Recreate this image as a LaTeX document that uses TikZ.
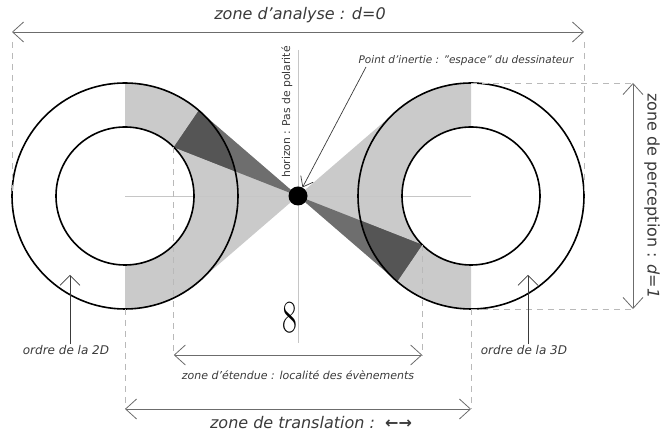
\documentclass[tikz,border=0pt]{standalone}
\usepackage{fontspec}
\setsansfont{DejaVu Sans}
\usetikzlibrary{arrows.meta,calc}
\definecolor{shadelight}{HTML}{CACACA}
\definecolor{shademid}{HTML}{6E6E6E}
\definecolor{shadedark}{HTML}{555555}
\definecolor{inkgray}{HTML}{3A3A3A}
\tikzset{
  dim arrow/.style={{Straight Barb[length=11pt,width=20pt]}-{Straight Barb[length=11pt,width=20pt]}, draw=gray!85!black, line width=0.8pt},
  guide/.style={draw=gray!55, dash pattern=on 6pt off 5pt, line width=0.6pt},
  axis line/.style={draw=gray!45, line width=0.7pt},
  ring/.style={draw=black, line width=1.6pt},
  pointer/.style={-{Straight Barb[length=10pt,width=20pt]}, draw=inkgray, line width=0.7pt},
  note/.style={text=inkgray, inner sep=1pt, font=\sffamily\itshape\fontsize{11}{13}\selectfont},
  big note/.style={note, font=\sffamily\itshape\fontsize{16}{19}\selectfont},
}

\begin{document}
\begin{tikzpicture}[x=1pt,y=1pt]
  \useasboundingbox (0,0) rectangle (662,433);

  % Centres
  \coordinate (Lc) at (125,237);
  \coordinate (Rc) at (471,237);
  \coordinate (Dc) at (298,237);

  % Tangent points and wedge corners
  \coordinate (lt1) at ($(Lc)+(49.2:113)$);
  \coordinate (lt2) at ($(Lc)+(-49.2:113)$);
  \coordinate (lin) at ($(Lc)+(45:69)$);
  \coordinate (rt1) at ($(Rc)+(229.2:113)$);
  \coordinate (rt2) at ($(Rc)+(130.8:113)$);
  \coordinate (rin) at ($(Rc)+(225:69)$);

  % Light shading: half rings and cones
  \fill[shadelight] (Lc) ++(90:113) arc (90:-90:113) -- cycle;
  \fill[shadelight] (Rc) ++(90:113) arc (90:270:113) -- cycle;
  \fill[shadelight] (Dc) -- (lt1) -- (lt2) -- cycle;
  \fill[shadelight] (Dc) -- (rt1) -- (rt2) -- cycle;

  % Dark wedges
  \fill[shademid] (Dc) -- (lt1) -- (lin) -- cycle;
  \fill[shademid] (Dc) -- (rt1) -- (rin) -- cycle;
  \begin{scope}
    \clip (Lc) circle (113) (Rc) circle (113);
    \fill[shadedark] (Dc) -- (lt1) -- (lin) -- cycle;
    \fill[shadedark] (Dc) -- (rt1) -- (rin) -- cycle;
  \end{scope}
  \fill[white] (Lc) circle (69) (Rc) circle (69);

  % Axes
  \coordinate (vtop) at (298,383);
  \coordinate (vbot) at (298,90);
  \draw[axis line] (Lc) -- (Rc);
  \draw[axis line] (vtop) -- (vbot);

  % Rings
  \draw[ring] (Lc) circle (113) (Lc) circle (69);
  \draw[ring] (Rc) circle (113) (Rc) circle (69);

  % Point d'inertie
  \node[circle, fill=black, minimum size=19pt, inner sep=0pt] (dot) at (Dc) {};
  \node[note, font=\sffamily\itshape\fontsize{10.5}{12}\selectfont] (inertie) at (466,372) {Point d'inertie : "espace" du dessinateur};
  \coordinate (inStart) at (366,366);
  \draw[pointer, -{Straight Barb[length=9pt,width=14pt]}] (inStart) -- (dot);

  % horizon
  \node[note, font=\sffamily\fontsize{10.8}{13}\selectfont, rotate=90] (horizon) at (287,321) {horizon : Pas de polarité};
  \node[text=black, font=\rmfamily\fontsize{46}{46}\selectfont, xscale=0.7, inner sep=0pt] (huit) at (289.5,115) {8};

  % zone d'analyse
  \coordinate (anaL) at (12,401);
  \coordinate (anaR) at (584,401);
  \draw[guide] ([yshift=-10pt]anaL) -- (Lc -| anaL);
  \draw[guide] ([yshift=-10pt]anaR) -- (Rc -| anaR);
  \draw[dim arrow] (anaL) -- (anaR);
  \node[big note] (analyse) at (300,418) {zone d'analyse : d=0};

  % zone de perception
  \coordinate (perT) at (633,350);
  \coordinate (perB) at (633,124);
  \draw[guide] (Rc |- perT) -- ([xshift=2pt]perT);
  \draw[guide] (Rc |- perB) -- ([xshift=2pt]perB);
  \draw[dim arrow] (perT) -- (perB);
  \node[big note, font=\sffamily\fontsize{16}{19}\selectfont, rotate=-90] (perception) at (652,237) {zone de perception : \textit{d=1}};

  % zone d'etendue
  \coordinate (etbase) at (0,78);
  \coordinate (etL) at (lin |- etbase);
  \coordinate (etR) at (rin |- etbase);
  \draw[guide] (lin) -- (etL);
  \draw[guide] (rin) -- (etR);
  \draw[dim arrow] (etL) -- (etR);
  \node[note] (etendue) at (298,58) {zone d'étendue : localité des évènements};

  % zone de translation
  \coordinate (traL) at (125,24);
  \coordinate (traR) at (471,24);
  \draw[guide] (Lc |- perB) -- (traL);
  \draw[guide] (Rc |- perB) -- (traR);
  \draw[dim arrow] (traL) -- (traR);
  \node[big note] (translation) at (311,10) {zone de translation :\ \ {\upshape\bfseries ←→}};

  % Ordres
  \node[note, font=\sffamily\itshape\fontsize{12}{14}\selectfont] (ordre2D) at (66,83) {ordre de la 2D};
  \node[note, font=\sffamily\itshape\fontsize{12}{14}\selectfont] (ordre3D) at (524,83) {ordre de la 3D};
  \coordinate (o2tip) at (70,158);
  \coordinate (o3tip) at (528,158);
  \draw[pointer] (o2tip |- ordre2D.north) -- (o2tip);
  \draw[pointer] (o3tip |- ordre3D.north) -- (o3tip);
\end{tikzpicture}
\end{document}
